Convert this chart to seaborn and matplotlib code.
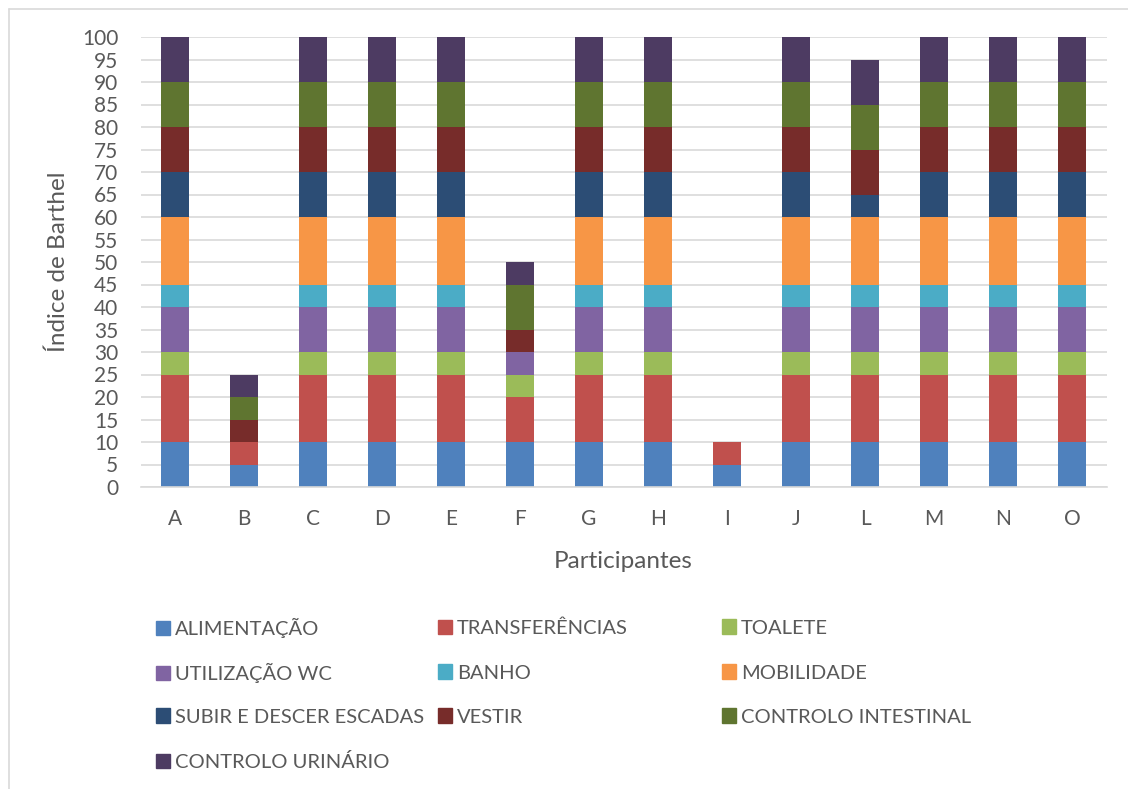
import numpy as np
import pandas as pd
import matplotlib
matplotlib.use("Agg")
import matplotlib.pyplot as plt
from matplotlib.lines import Line2D
from matplotlib.patches import Patch
import seaborn as sns

# --- DATA ---
participants = ["A", "B", "C", "D", "E", "F", "G", "H", "I", "J", "L", "M", "N", "O"]

alimentacao    = [10, 5, 10, 10, 10, 10, 10, 10, 5, 10, 10, 10, 10, 10]
transferencias = [15, 5, 15, 15, 15, 10, 15, 15, 5, 15, 15, 15, 15, 15]
toalete        = [5, 0, 5, 5, 5, 5, 5, 5, 0, 5, 5, 5, 5, 5]
utilizacao_wc  = [10, 0, 10, 10, 10, 5, 10, 10, 0, 10, 10, 10, 10, 10]
banho          = [5, 0, 5, 5, 5, 0, 5, 5, 0, 5, 5, 5, 5, 5]
mobilidade     = [15, 0, 15, 15, 15, 0, 15, 15, 0, 15, 15, 15, 15, 15]
escadas        = [10, 0, 10, 10, 10, 0, 10, 10, 0, 10, 5, 10, 10, 10]
vestir         = [10, 5, 10, 10, 10, 5, 10, 10, 0, 10, 10, 10, 10, 10]
intestinal     = [10, 5, 10, 10, 10, 10, 10, 10, 0, 10, 10, 10, 10, 10]
urinario       = [10, 5, 10, 10, 10, 5, 10, 10, 0, 10, 10, 10, 10, 10]

series_names = ["ALIMENTAÇÃO", "TRANSFERÊNCIAS", "TOALETE", "UTILIZAÇÃO WC", "BANHO",
                "MOBILIDADE", "SUBIR E DESCER ESCADAS", "VESTIR",
                "CONTROLO INTESTINAL", "CONTROLO URINÁRIO"]
series_values = [alimentacao, transferencias, toalete, utilizacao_wc, banho,
                 mobilidade, escadas, vestir, intestinal, urinario]

COLORS = ["#4F81BD", "#C0504D", "#9BBB59", "#8064A2", "#4BACC6",
          "#F79646", "#2C4D75", "#772C2A", "#5F7530", "#4D3B62"]

TEXT = "#595959"
GRID = "#D9D9D9"
W, H = 1128, 789

sns.set_style("white")
plt.rcParams['font.family'] = ['Lato', 'DejaVu Sans']

fig = plt.figure(figsize=(W / 100, H / 100), dpi=100)
ax = fig.add_axes([140.5 / W, 302 / H, 966 / W, 450 / H])

bottom = np.zeros(len(participants))
for name, vals, col in zip(series_names, series_values, COLORS):
    df = pd.DataFrame({"participant": participants, "value": vals})
    sns.barplot(data=df, x="participant", y="value", order=participants,
                color=col, bottom=bottom, width=0.41, ax=ax,
                linewidth=0, saturation=1, errorbar=None)
    bottom = bottom + np.array(vals)

ax.set_ylim(0, 100)
ax.set_xlim(-0.5, len(participants) - 0.5)
ax.set_yticks(range(0, 101, 5))
ax.yaxis.grid(True, color=GRID, linewidth=1.2)
ax.set_axisbelow(True)
for side in ["top", "right", "left"]:
    ax.spines[side].set_visible(False)
ax.spines["bottom"].set_color(GRID)
ax.spines["bottom"].set_linewidth(1.2)
ax.tick_params(axis="both", length=0, labelsize=15, colors=TEXT)
ax.tick_params(axis="x", pad=16)
ax.tick_params(axis="y", pad=16)

ax.set_xlabel("Participantes", fontsize=17.5, color=TEXT, labelpad=16)
ax.set_ylabel("Índice de Barthel", fontsize=17.5, color=TEXT, labelpad=9)

# legend: one entry per slot, three columns filled row by row
marker_x = [156, 438, 722]
row_y = [628, 673, 717, 762]
for i, (name, col) in enumerate(zip(series_names, COLORS)):
    r, c = divmod(i, 3)
    leg = fig.legend([Patch(facecolor=col, edgecolor=col)], [name], loc="center left",
                     bbox_to_anchor=(marker_x[c] / W, 1 - row_y[r] / H),
                     frameon=False, fontsize=14.5, handlelength=0.7,
                     handleheight=0.7, handletextpad=0.25,
                     borderaxespad=0, borderpad=0)
    for t in leg.get_texts():
        t.set_color(TEXT)

# chart frame
fig.add_artist(Line2D([8.5 / W, 8.5 / W], [0, 1 - 9 / H], color=GRID, linewidth=1.2))
fig.add_artist(Line2D([8.5 / W, 1], [1 - 9 / H, 1 - 9 / H], color=GRID, linewidth=1.2))

fig.savefig("out.png", dpi=100)
plt.close(fig)
